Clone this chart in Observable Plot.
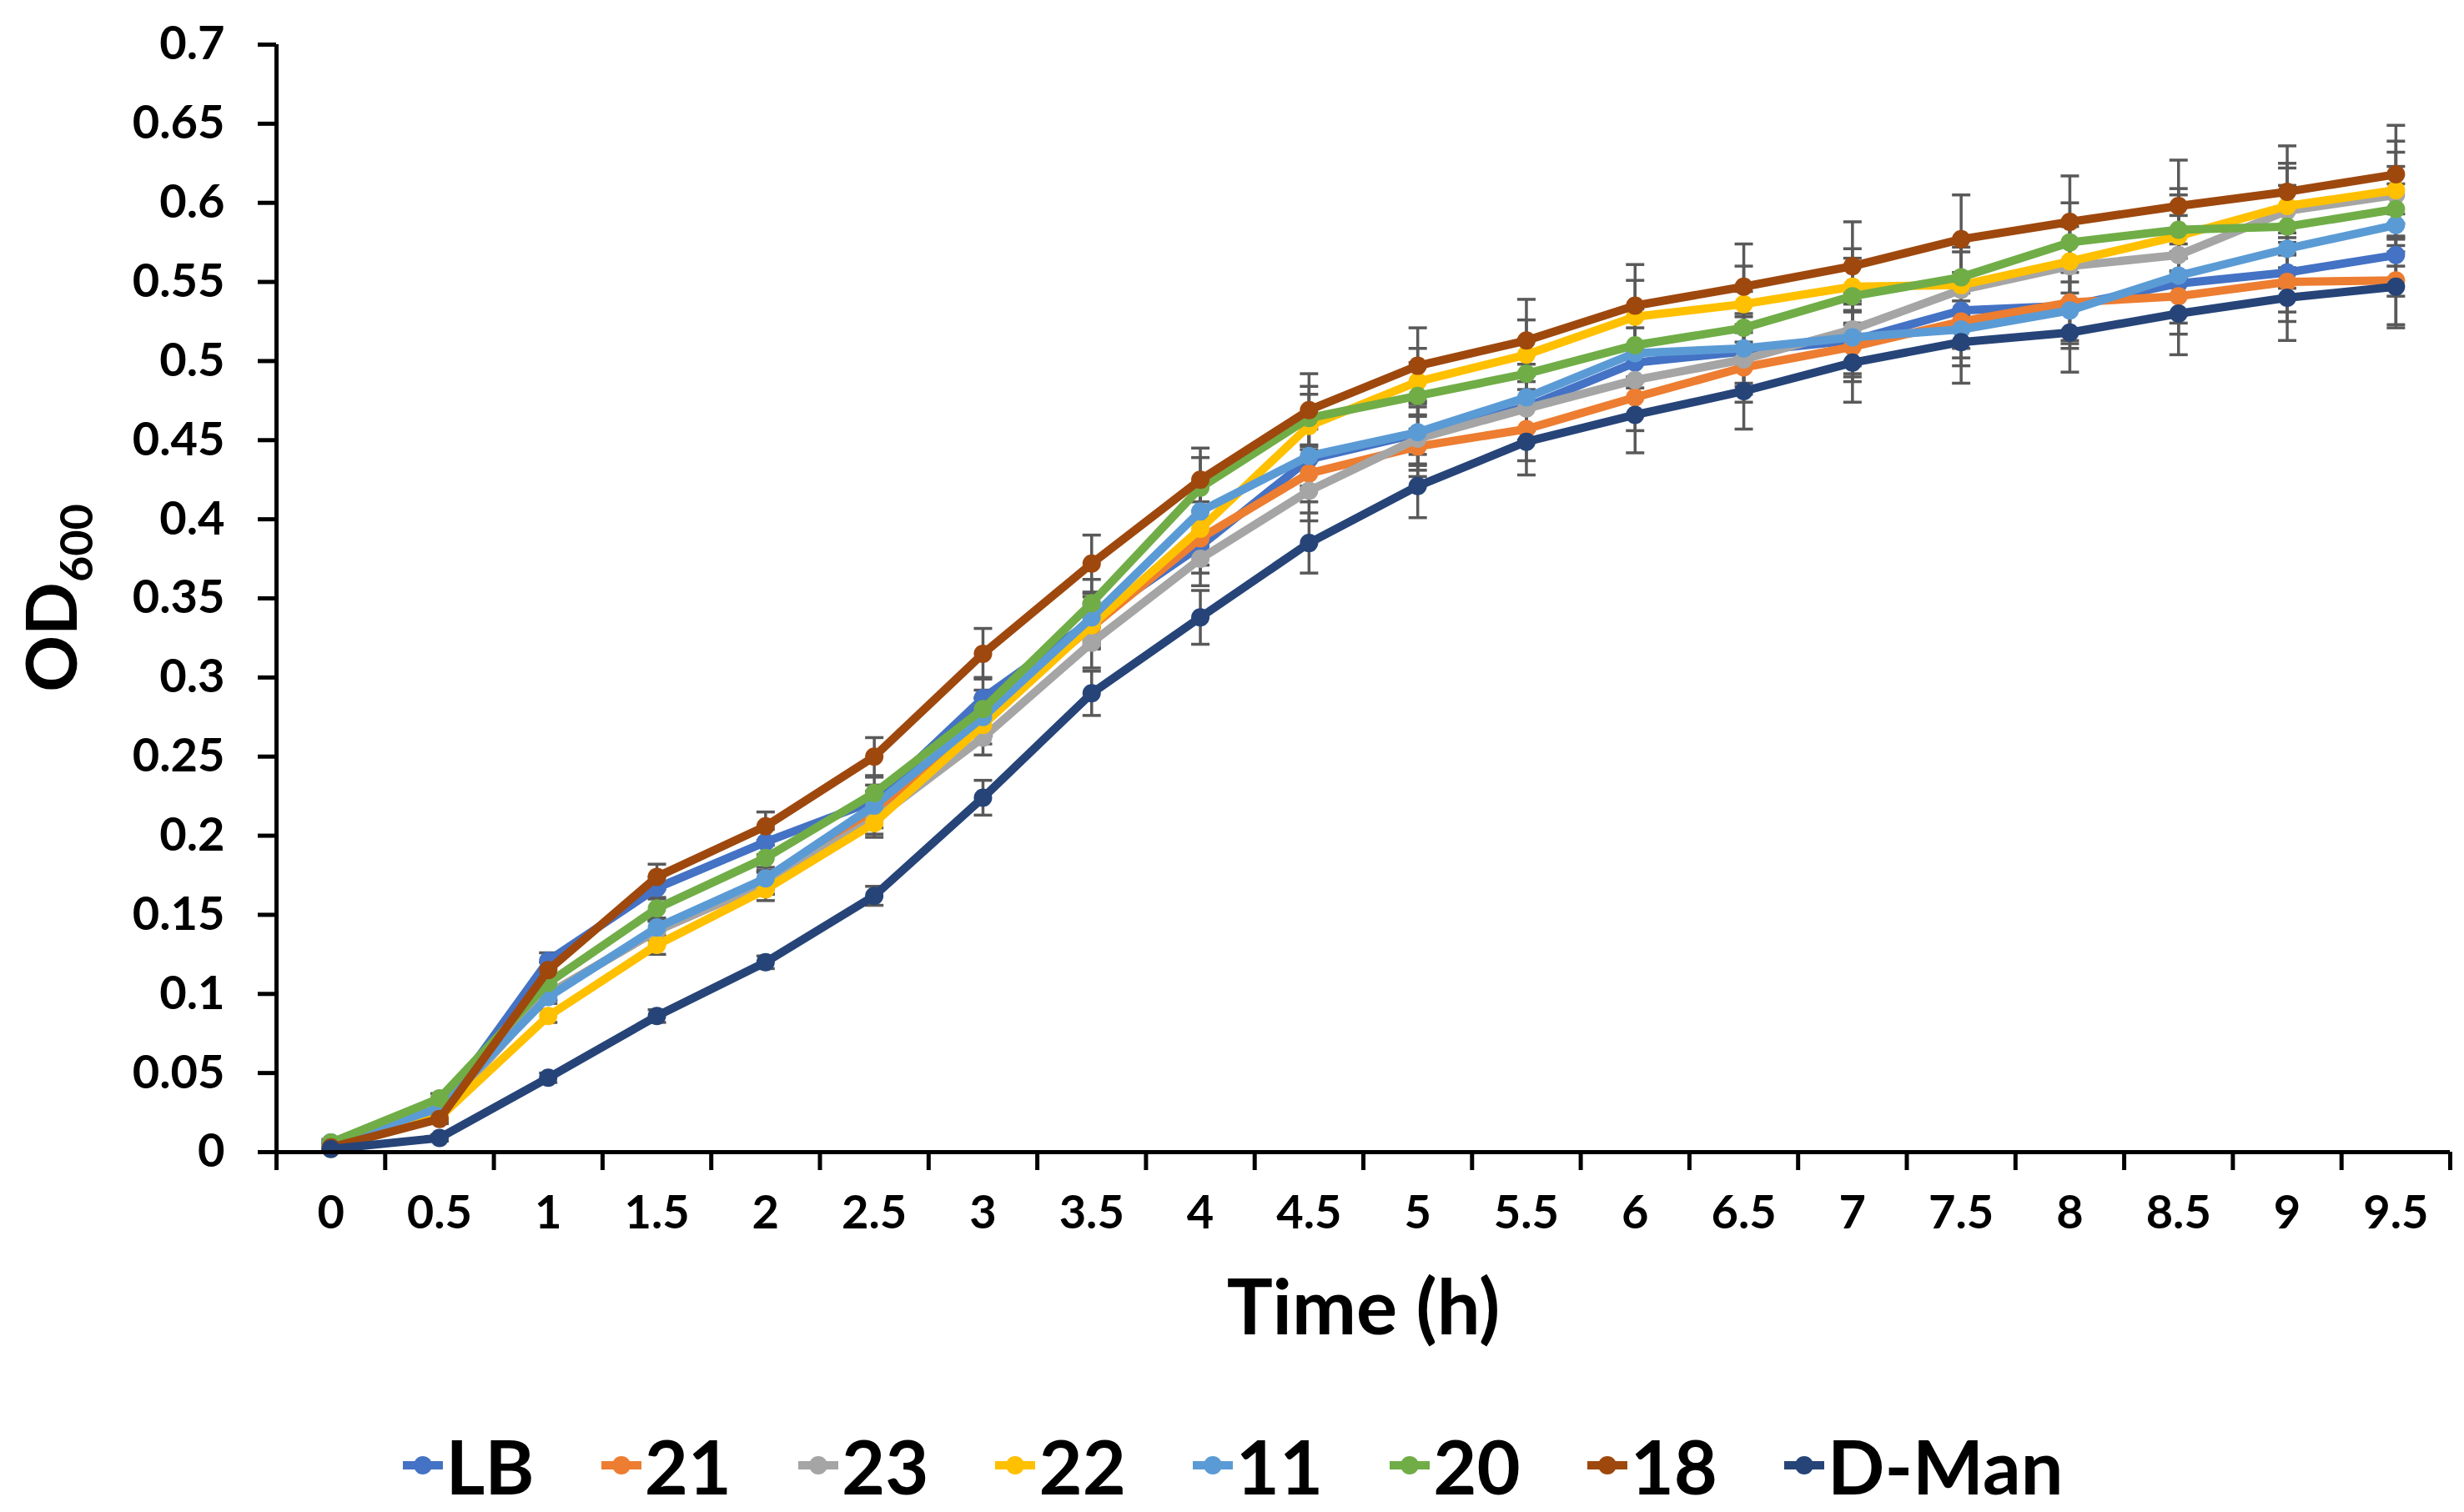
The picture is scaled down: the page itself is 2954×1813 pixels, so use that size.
<!DOCTYPE html>
<html>
<head>
<meta charset="utf-8">
<script src="https://cdn.jsdelivr.net/npm/d3@7"></script>
<script src="https://cdn.jsdelivr.net/npm/@observablehq/plot@0.6"></script>
<style>
  body { margin: 0; background: #fff; }
  #wrap { position: relative; width: 2954px; height: 1813px; font-family: Lato, "Open Sans", sans-serif; font-weight: 700; }
  #ytitle { position: absolute; left: 66px; top: 717px; transform: translate(-50%, -50%) rotate(-90deg); font-size: 84px; white-space: nowrap; }
  #ytitle sub { font-size: 54px; vertical-align: -0.35em; }
  #legend { position: absolute; left: 0; top: 1686px; width: 2954px; height: 142px; display: flex; justify-content: center; align-items: center; gap: 78px; font-size: 90px; }
  #legend span.item { display: flex; align-items: center; gap: 2px; }
</style>
</head>
<body>
<div id="wrap">
  <div id="chart"></div>
  <div id="ytitle">OD<sub>600</sub></div>
  <div id="legend"></div>
</div>
<script>
const times = [0, 0.5, 1, 1.5, 2, 2.5, 3, 3.5, 4, 4.5, 5, 5.5, 6, 6.5, 7, 7.5, 8, 8.5, 9, 9.5];
const seriesNames = ["LB", "21", "23", "22", "11", "20", "18", "D-Man"];
const seriesColors = ["#4472C4", "#ED7D31", "#A5A5A5", "#FFC000", "#5B9BD5", "#70AD47", "#9E480E", "#264478"];
const yTicks = [0, 0.05, 0.1, 0.15, 0.2, 0.25, 0.3, 0.35, 0.4, 0.45, 0.5, 0.55, 0.6, 0.65, 0.7];

const odLB   = [0.006, 0.026, 0.121, 0.167, 0.196, 0.222, 0.287, 0.336, 0.383, 0.438, 0.454, 0.471, 0.499, 0.506, 0.513, 0.532, 0.535, 0.549, 0.556, 0.567];
const od21   = [0.004, 0.025, 0.100, 0.140, 0.170, 0.214, 0.275, 0.332, 0.388, 0.429, 0.446, 0.457, 0.477, 0.496, 0.509, 0.525, 0.537, 0.541, 0.550, 0.551];
const od23   = [0.004, 0.024, 0.100, 0.140, 0.170, 0.210, 0.262, 0.322, 0.375, 0.418, 0.451, 0.470, 0.488, 0.501, 0.520, 0.545, 0.560, 0.567, 0.595, 0.605];
const od22   = [0.004, 0.022, 0.086, 0.131, 0.166, 0.208, 0.270, 0.333, 0.394, 0.459, 0.487, 0.504, 0.528, 0.536, 0.547, 0.548, 0.563, 0.579, 0.598, 0.608];
const od11   = [0.005, 0.028, 0.098, 0.142, 0.173, 0.219, 0.275, 0.338, 0.405, 0.440, 0.455, 0.477, 0.505, 0.508, 0.515, 0.520, 0.532, 0.554, 0.571, 0.586];
const od20   = [0.006, 0.034, 0.107, 0.154, 0.186, 0.227, 0.280, 0.347, 0.420, 0.464, 0.478, 0.492, 0.510, 0.521, 0.541, 0.553, 0.575, 0.583, 0.585, 0.596];
const od18   = [0.003, 0.021, 0.115, 0.174, 0.206, 0.250, 0.315, 0.372, 0.425, 0.469, 0.497, 0.513, 0.535, 0.547, 0.560, 0.577, 0.588, 0.598, 0.607, 0.618];
const odDMan = [0.002, 0.009, 0.047, 0.086, 0.120, 0.162, 0.224, 0.290, 0.338, 0.385, 0.421, 0.449, 0.466, 0.481, 0.499, 0.512, 0.518, 0.530, 0.540, 0.547];

// error bars (± SD), read from the caps where visible
const errLB   = [0.002, 0.003, 0.005, 0.007, 0.008, 0.010, 0.013, 0.015, 0.017, 0.019, 0.020, 0.021, 0.022, 0.022, 0.023, 0.024, 0.024, 0.025, 0.025, 0.026];
const err21   = [0.002, 0.003, 0.004, 0.006, 0.007, 0.009, 0.012, 0.014, 0.017, 0.018, 0.019, 0.020, 0.021, 0.022, 0.022, 0.023, 0.024, 0.024, 0.025, 0.028];
const err23   = [0.002, 0.003, 0.004, 0.006, 0.007, 0.009, 0.011, 0.016, 0.017, 0.019, 0.020, 0.021, 0.022, 0.022, 0.023, 0.024, 0.025, 0.025, 0.027, 0.027];
const err22   = [0.002, 0.003, 0.004, 0.006, 0.007, 0.009, 0.012, 0.014, 0.017, 0.020, 0.021, 0.022, 0.023, 0.024, 0.024, 0.024, 0.025, 0.026, 0.027, 0.031];
const err11   = [0.002, 0.003, 0.004, 0.006, 0.007, 0.009, 0.012, 0.015, 0.018, 0.019, 0.020, 0.021, 0.022, 0.022, 0.023, 0.023, 0.024, 0.025, 0.025, 0.026];
const err20   = [0.002, 0.003, 0.005, 0.007, 0.008, 0.010, 0.012, 0.015, 0.019, 0.020, 0.021, 0.022, 0.023, 0.023, 0.024, 0.024, 0.025, 0.026, 0.026, 0.027];
const err18   = [0.002, 0.003, 0.005, 0.008, 0.009, 0.012, 0.016, 0.018, 0.020, 0.023, 0.024, 0.026, 0.026, 0.027, 0.028, 0.028, 0.029, 0.029, 0.029, 0.031];
const errDMan = [0.001, 0.002, 0.003, 0.004, 0.004, 0.006, 0.011, 0.014, 0.017, 0.019, 0.020, 0.021, 0.024, 0.024, 0.025, 0.026, 0.025, 0.026, 0.027, 0.026];

const odValues = [odLB, od21, od23, od22, od11, od20, od18, odDMan];
const errValues = [errLB, err21, err23, err22, err11, err20, err18, errDMan];

const rows = seriesNames.flatMap((name, i) =>
  times.map((t, j) => ({name, t, v: odValues[i][j], e: errValues[i][j]})));

// excel-style category ticks sit between the time points
const bounds = times.map(t => t - 0.25).concat([times[times.length - 1] + 0.25]);

// horizontal cap for the error bars
const capSymbol = {
  draw(ctx, size) {
    const w = Math.sqrt(size / Math.PI);
    ctx.moveTo(-w, 0);
    ctx.lineTo(w, 0);
  }
};

const seriesMarks = seriesNames.flatMap((name, i) => {
  const data = rows.filter(d => d.name === name);
  return [
    Plot.line(data, {x: "t", y: "v", stroke: seriesColors[i], strokeWidth: 10, strokeLinejoin: "round"}),
    Plot.dot(data, {x: "t", y: "v", fill: seriesColors[i], r: 11})
  ];
});

const chart = Plot.plot({
  width: 2954,
  height: 1690,
  marginLeft: 331,
  marginRight: 17,
  marginTop: 53,
  marginBottom: 309,
  style: {fontFamily: "Lato, 'Open Sans', sans-serif", fontWeight: 700, fontSize: "54px", color: "#000", background: "#fff"},
  x: {domain: [-0.25, 9.75], label: null},
  y: {domain: [0, 0.7], label: null},
  marks: [
    Plot.axisY(yTicks, {tickSize: 22, tickPadding: 40, strokeWidth: 5, fontSize: 56, fontWeight: 700,
      tickFormat: d => String(+d.toFixed(2)), label: null}),
    Plot.axisX(times, {tickSize: 0, tickPadding: 52, fontSize: 56, fontWeight: 700,
      tickFormat: d => String(d), label: null}),
    Plot.axisX(bounds, {tickSize: 22, strokeWidth: 5, tickFormat: () => "", label: null}),
    Plot.ruleX(rows, {x: "t", y1: d => d.v - d.e, y2: d => d.v + d.e, stroke: "#595959", strokeWidth: 3.5}),
    Plot.dot(rows, {x: "t", y: d => d.v + d.e, symbol: capSymbol, r: 11, stroke: "#595959", strokeWidth: 3.5}),
    Plot.dot(rows, {x: "t", y: d => d.v - d.e, symbol: capSymbol, r: 11, stroke: "#595959", strokeWidth: 3.5}),
    ...seriesMarks,
    Plot.ruleX([-0.25], {y1: 0, y2: 0.7, strokeWidth: 5, stroke: "#000"}),
    Plot.ruleY([0], {strokeWidth: 5, stroke: "#000"}),
    Plot.text(["Time (h)"], {frameAnchor: "bottom", dy: 218, fontSize: 92, fontWeight: 700, fill: "#000"})
  ]
});

document.getElementById("chart").appendChild(chart);

// legend: line with a marker, then the name
const legend = d3.select("#legend");
seriesNames.forEach((name, i) => {
  const item = legend.append("span").attr("class", "item");
  const svg = item.append("svg").attr("width", 52).attr("height", 30);
  svg.append("line").attr("x1", 2).attr("x2", 50).attr("y1", 15).attr("y2", 15)
    .attr("stroke", seriesColors[i]).attr("stroke-width", 10);
  svg.append("circle").attr("cx", 26).attr("cy", 15).attr("r", 11).attr("fill", seriesColors[i]);
  item.append("span").text(name);
});
</script>
</body>
</html>
